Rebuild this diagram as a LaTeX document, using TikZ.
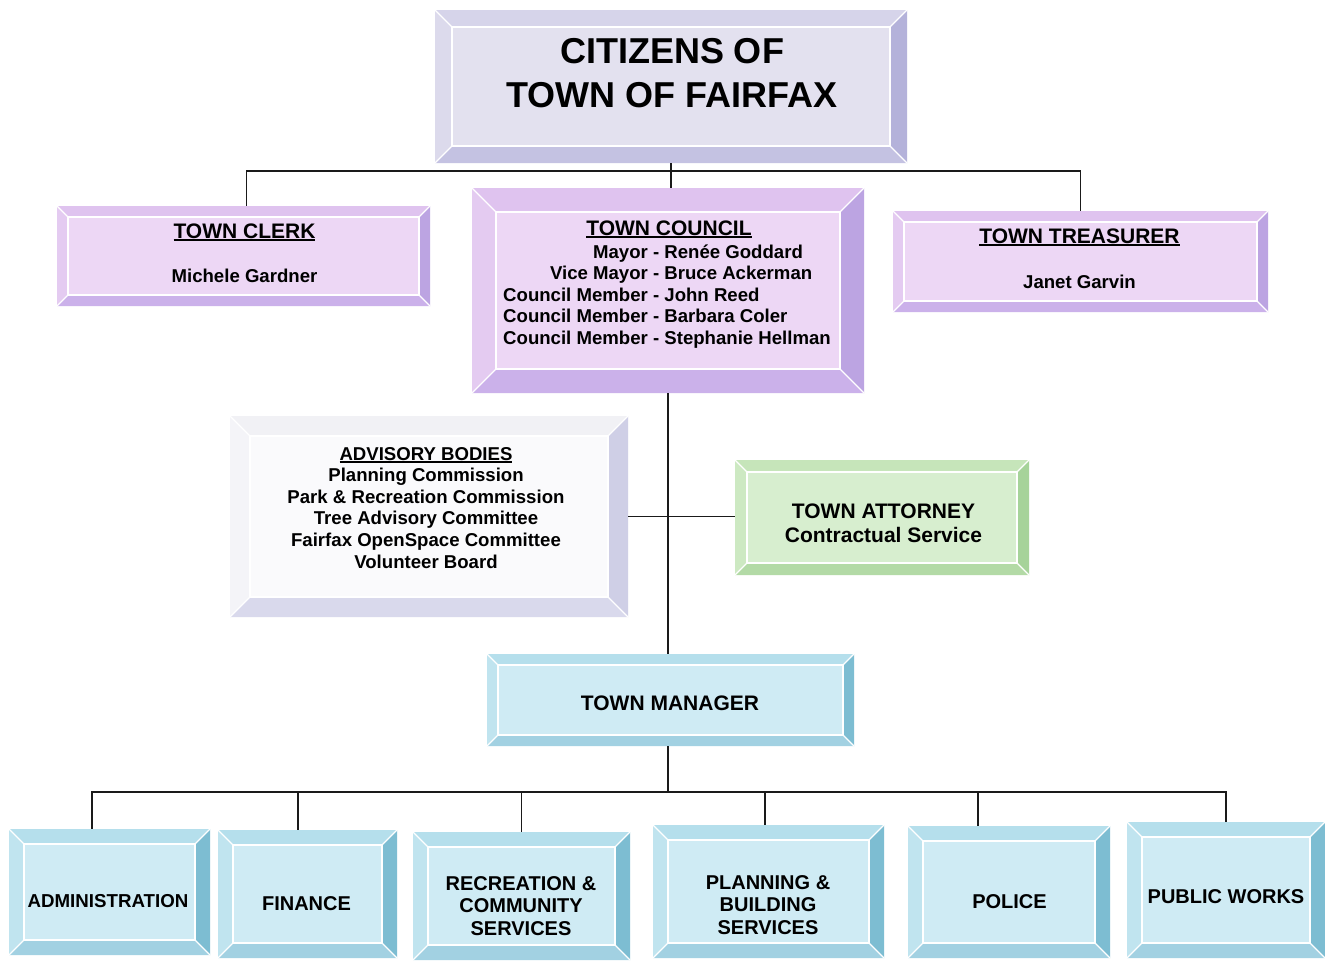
\documentclass[tikz,border=0pt]{standalone}
\usepackage{fontspec}
\setmainfont{Liberation Sans}
\usetikzlibrary{calc}
\definecolor{citF}{HTML}{E3E1EF}\definecolor{citT}{HTML}{D6D4EA}\definecolor{citL}{HTML}{DCDAEC}\definecolor{citR}{HTML}{B4B2DA}\definecolor{citB}{HTML}{C4C2E2}
\definecolor{pnkF}{HTML}{EDD7F5}\definecolor{pnkT}{HTML}{DFC3EF}\definecolor{pnkL}{HTML}{E4CBF1}\definecolor{pnkR}{HTML}{BCA4E2}\definecolor{pnkB}{HTML}{CBB1EA}
\definecolor{advF}{HTML}{FAFAFC}\definecolor{advT}{HTML}{F1F1F5}\definecolor{advL}{HTML}{F4F4F8}\definecolor{advR}{HTML}{CFCFE6}\definecolor{advB}{HTML}{D9D9EC}
\definecolor{grnF}{HTML}{D7EECF}\definecolor{grnT}{HTML}{C6E5BA}\definecolor{grnL}{HTML}{CDE9C2}\definecolor{grnR}{HTML}{A6D39A}\definecolor{grnB}{HTML}{B3DAA6}
\definecolor{bluF}{HTML}{CFEBF4}\definecolor{bluT}{HTML}{B5DFEC}\definecolor{bluL}{HTML}{C0E4EF}\definecolor{bluR}{HTML}{7DBDD2}\definecolor{bluB}{HTML}{A2D1E2}
\definecolor{linecol}{HTML}{1A1A1A}
\newcommand\myul[1]{\setbox0\hbox{#1}\rlap{\rule[-3pt]{\wd0}{1.6pt}}\box0}
\newcommand\bevbox[7]{%
  \node[boxnode, fill=#7F, minimum width={(#4-#2)*1pt}, minimum height={(#5-#3)*1pt}] (#1) at ({(#2+#4)/2},{(#3+#5)/2}) {};
  \fill[#7T] (#2,#3) -- (#4,#3) -- ({#4-#6},{#3+#6}) -- ({#2+#6},{#3+#6}) -- cycle;
  \fill[#7B] (#2,#5) -- (#4,#5) -- ({#4-#6},{#5-#6}) -- ({#2+#6},{#5-#6}) -- cycle;
  \fill[#7L] (#2,#3) -- ({#2+#6},{#3+#6}) -- ({#2+#6},{#5-#6}) -- (#2,#5) -- cycle;
  \fill[#7R] (#4,#3) -- ({#4-#6},{#3+#6}) -- ({#4-#6},{#5-#6}) -- (#4,#5) -- cycle;
  \draw[seam] (#2,#3) -- ({#2+#6},{#3+#6}) (#4,#3) -- ({#4-#6},{#3+#6})
              (#4,#5) -- ({#4-#6},{#5-#6}) (#2,#5) -- ({#2+#6},{#5-#6});
  \draw[seam] ({#2+#6},{#3+#6}) rectangle ({#4-#6},{#5-#6});
}
\begin{document}
\begin{tikzpicture}[x=1pt,y=-1pt,
  boxnode/.style={draw=none,inner sep=0pt,outer sep=0pt},
  seam/.style={draw=white,line width=1.2pt},
  conn/.style={draw=linecol,line width=1.8pt},
  txt/.style={inner sep=0pt,anchor=base,text=black},
  fbig/.style={font=\fontsize{36}{44}\selectfont\bfseries},
  fhead/.style={font=\fontsize{21}{24.5}\selectfont\bfseries},
  fbody/.style={font=\fontsize{18.6}{21.6}\selectfont\bfseries},
  fdept/.style={font=\fontsize{20}{22.5}\selectfont\bfseries}]
\useasboundingbox (0,0) rectangle (1325,961);
\fill[white] (0,0) rectangle (1325,961);

% connectors (behind boxes)
\coordinate (bus1) at (671,171);
\coordinate (bus2) at (668,792);

\bevbox{citizens}{435}{10}{907}{163}{17}{cit}
\bevbox{clerk}{57}{206}{430}{306}{11}{pnk}
\bevbox{council}{472}{188}{864}{393}{24}{pnk}
\bevbox{treasurer}{893}{211}{1268}{312}{11}{pnk}
\bevbox{advisory}{230}{416}{628}{617}{20}{adv}
\bevbox{attorney}{735}{460}{1029}{575}{12}{grn}
\bevbox{manager}{487}{654}{854}{746}{11}{blu}
\bevbox{admin}{9}{829}{210}{955}{15}{blu}
\bevbox{finance}{218}{830}{397}{958}{15}{blu}
\bevbox{rec}{413}{832}{630}{960}{15}{blu}
\bevbox{plan}{653}{825}{884}{958}{15}{blu}
\bevbox{police}{908}{826}{1110}{958}{15}{blu}
\bevbox{pw}{1127}{822}{1325}{958}{15}{blu}

\draw[conn] (citizens.south) -- (bus1);
\draw[conn] (bus1) -| ([xshift=3pt]clerk.north);
\draw[conn] (bus1) -| (treasurer.north);
\draw[conn] (bus1) -- (bus1 |- council.north);
\draw[conn] (council.south) -- (council.south |- manager.north);
\draw[conn] (advisory.east) -- (advisory.east -| attorney.west);
\draw[conn] (manager.south -| bus2) -- (bus2);
\draw[conn] (bus2) -| ([xshift=-17.5pt]admin.north);
\draw[conn] (bus2) -| ([xshift=-9.5pt]finance.north);
\draw[conn] (bus2) -| (rec.north);
\draw[conn] (bus2) -| ([xshift=-3.5pt]plan.north);
\draw[conn] (bus2) -| ([xshift=-31pt]police.north);
\draw[conn] (bus2) -| (pw.north);

% texts
\node[txt,fbig] (citT) at (672,63) {\begin{tabular}[t]{@{}c@{}}CITIZENS OF\\TOWN OF FAIRFAX\end{tabular}};
\node[txt,fhead] (clerkH) at (244.5,238) {\myul{TOWN CLERK}};
\node[txt,fbody] (clerkN) at (244.5,282) {Michele Gardner};
\node[txt,fhead] (councilH) at (669,235) {\myul{TOWN COUNCIL}};
\node[txt,fbody,anchor=base west] (councilN) at (503,258) {\begin{tabular}[t]{@{}r@{ - }l@{}}
Mayor & Renée Goddard\\
Vice Mayor & Bruce Ackerman\\
Council Member & John Reed\\
Council Member & Barbara Coler\\
Council Member & Stephanie Hellman\end{tabular}};
\node[txt,fhead] (treasH) at (1079.5,243) {\myul{TOWN TREASURER}};
\node[txt,fbody] (treasN) at (1079.5,288) {Janet Garvin};
\node[txt,fbody] (advT) at (426,460) {\begin{tabular}[t]{@{}c@{}}\myul{ADVISORY BODIES}\\
Planning Commission\\
Park \& Recreation Commission\\
Tree Advisory Committee\\
Fairfax OpenSpace Committee\\
Volunteer Board\end{tabular}};
\node[txt,fhead] (attT) at (883.5,518) {\begin{tabular}[t]{@{}c@{}}TOWN ATTORNEY\\Contractual Service\end{tabular}};
\node[txt,fhead] (manT) at (670,710.5) {TOWN MANAGER};
\node[txt,font=\fontsize{18.7}{22}\selectfont\bfseries] (adminT) at (108,907) {ADMINISTRATION};
\node[txt,fdept] (finT) at (306.5,910) {FINANCE};
\node[txt,fdept] (recT) at (521,890) {\begin{tabular}[t]{@{}c@{}}RECREATION \&\\COMMUNITY\\SERVICES\end{tabular}};
\node[txt,fdept] (planT) at (768,889) {\begin{tabular}[t]{@{}c@{}}PLANNING \&\\BUILDING\\SERVICES\end{tabular}};
\node[txt,fdept] (polT) at (1009.5,908) {POLICE};
\node[txt,fdept] (pwT) at (1226,903) {PUBLIC WORKS};
\end{tikzpicture}
\end{document}
